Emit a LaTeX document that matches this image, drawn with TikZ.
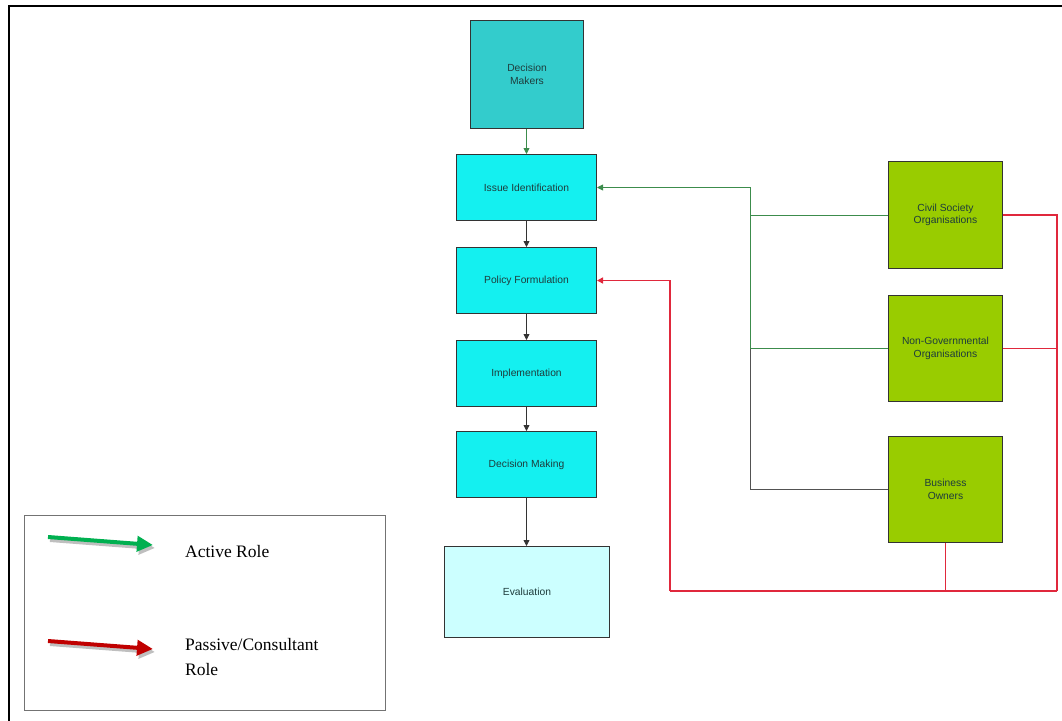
\documentclass[tikz,border=0pt]{standalone}
\usepackage{fontspec}
\setmainfont{Liberation Serif}
\setsansfont{Liberation Sans}
\usetikzlibrary{arrows.meta}
\definecolor{teal1}{HTML}{33CCCC}
\definecolor{cyan1}{HTML}{14F0F0}
\definecolor{lcyan}{HTML}{CCFFFF}
\definecolor{lgreen}{HTML}{99CC00}
\definecolor{txt}{HTML}{1E3C3C}
\definecolor{bord}{HTML}{333333}
\definecolor{gline}{HTML}{3C8C4C}
\definecolor{rline}{HTML}{E0283C}
\definecolor{legG}{HTML}{00B050}
\definecolor{legR}{HTML}{C00000}
\tikzset{
  box/.style={draw=bord, line width=1pt, minimum width=#1, inner sep=0pt, align=center,
    font=\sffamily\fontsize{10.3}{12.5}\selectfont, text=txt, anchor=north west},
  flow/.style={draw=bord, line width=0.8pt, -{Triangle[length=6pt,width=6pt]}},
  gl/.style={draw=gline, line width=0.9pt},
  rl/.style={draw=rline, line width=1.2pt},
  legtxt/.style={font=\fontsize{17.5}{25}\selectfont, anchor=west, align=left, inner sep=0pt},
}
\begin{document}
\begin{tikzpicture}[x=1pt,y=-1pt]
\useasboundingbox (0,0) rectangle (1062,720);
% outer frame
\draw[line width=1.8pt] (9,721) -- (9,6) -- (1063,6);

% left column
\node[box=113pt, minimum height=108pt, fill=teal1] (dm) at (470,20) {Decision\\Makers};
\node[box=140pt, minimum height=66pt, fill=cyan1] (ii) at (456,154) {Issue Identification};
\node[box=140pt, minimum height=66pt, fill=cyan1] (pf) at (456,247) {Policy Formulation};
\node[box=140pt, minimum height=66pt, fill=cyan1] (im) at (456,340) {Implementation};
\node[box=140pt, minimum height=66pt, fill=cyan1] (dmk) at (456,431) {Decision Making};
\node[box=165pt, minimum height=91pt, fill=lcyan] (ev) at (444,546) {Evaluation};

% right column
\node[box=114pt, minimum height=107pt, fill=lgreen] (cso) at (888,161) {Civil Society\\Organisations};
\node[box=114pt, minimum height=106pt, fill=lgreen] (ngo) at (888,295) {Non-Governmental\\Organisations};
\node[box=114pt, minimum height=106pt, fill=lgreen] (bo) at (888,436) {Business\\Owners};

% flow arrows
\draw[flow, draw=gline, -{Triangle[length=6pt,width=6pt,fill=gline]}] (ii.north |- dm.south) -- (ii.north);
\draw[flow] (ii.south) -- (pf.north);
\draw[flow] (pf.south) -- (im.north);
\draw[flow] (im.south) -- (dmk.north);
\draw[flow] (dmk.south) -- (dmk.south |- ev.north);

% green (active) connectors
\coordinate (gtop) at (750,0 |- ii.east);
\coordinate (gbot) at (750,0 |- bo.west);
\draw[gl] (cso.west) -- (cso.west -| gtop);
\draw[gl] (ngo.west) -- (ngo.west -| gtop);
\draw[draw=bord!85, line width=0.9pt] (bo.west) -- (gbot) -- (ngo.west -| gtop);
\draw[gl, -{Triangle[length=6pt,width=6pt]}] (ngo.west -| gtop) -- (gtop) -- (ii.east);

% red (passive) connectors
\coordinate (rright) at (1057,0 |- cso.east);
\coordinate (rbr) at (1057,591);
\coordinate (rbl) at (670,591);
\draw[rl] (cso.east) -- (rright) -- (rbr);
\draw[rl] (ngo.east) -- (ngo.east -| rright);
\draw[rl] (bo.south) -- (bo.south |- rbr);
\draw[rl] (rbr) -- (rbl);
\draw[draw=rline, line width=1.5pt, -{Triangle[length=6pt,width=6pt]}] (rbl) -- (rbl |- pf.east) -- (pf.east);

% legend
\node[draw=black!55, line width=0.9pt, minimum width=361pt, minimum height=195pt, anchor=north west, inner sep=0pt] (leg) at (24,515) {};
\coordinate (ga) at (48,537);
\coordinate (gb) at (153,545);
\coordinate (ra) at (48,641);
\coordinate (rb) at (153,649);
\draw[black!25, line width=4pt, -{Triangle[length=16pt,width=15pt]}] ([shift={(2,3)}]ga) -- ([shift={(2,3)}]gb);
\draw[black!25, line width=4pt, -{Triangle[length=16pt,width=15pt]}] ([shift={(2,3)}]ra) -- ([shift={(2,3)}]rb);
\draw[legG, line width=4pt, -{Triangle[length=16pt,width=15pt]}] (ga) -- (gb);
\draw[legR, line width=4pt, -{Triangle[length=16pt,width=15pt]}] (ra) -- (rb);
\node[legtxt] (lt1) at (185,552) {Active Role};
\node[legtxt, anchor=north west] (lt2) at (185,638) {Passive/Consultant\\Role};
\end{tikzpicture}
\end{document}
